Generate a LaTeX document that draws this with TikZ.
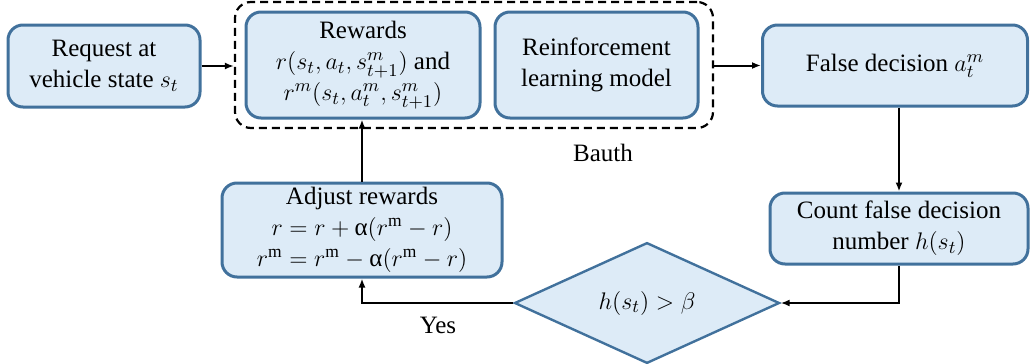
\documentclass[tikz,border=0pt]{standalone}
\usepackage{amsmath}
\usepackage{fontspec}
\setmainfont{Liberation Serif}
\newfontfamily\boxfont{Liberation Serif}
\usepackage{tikz}
\usetikzlibrary{arrows.meta,shapes.geometric}

\definecolor{boxfill}{HTML}{DDEBF7}
\definecolor{boxline}{HTML}{41719C}

\tikzset{
  stepbox/.style={draw=boxline, fill=boxfill, line width=1.5pt, rounded corners=7.5pt,
    align=center, inner sep=0pt, font=\boxfont\fontsize{12.5}{15.5}\selectfont},
  choice/.style={diamond, draw=boxline, fill=boxfill, line width=1.2pt,
    inner sep=0pt, font=\boxfont\fontsize{12.5}{15.5}\selectfont},
  arr/.style={-{Latex[length=4.5pt,width=3.5pt]}, line width=1pt},
  lbl/.style={font=\boxfont\fontsize{12.5}{15.5}\selectfont}
}

\begin{document}
\begin{tikzpicture}[x=0.5pt, y=-0.5pt]
    \useasboundingbox (0,0) rectangle (1030,364);
  % authentication block
  \node[draw, dashed, dash pattern=on 4pt off 2.5pt, line width=1.1pt, rounded corners=8pt,
        minimum width=239pt, minimum height=63pt, inner sep=0pt] (auth) at (474,65) {};
  \node[lbl] (authname) at (603,153) {Bauth};
  \node[stepbox, minimum width=96pt, minimum height=41pt] (req) at (104,66)
    {Request at\\vehicle state $s_t$};
  \node[stepbox, minimum width=117pt, minimum height=53pt] (rew) at (363,65)
    {Rewards\\$r(s_t,a_t,s_{t+1}^m)$ and\\$r^m(s_t,a_t^m,s_{t+1}^m)$};
  \node[stepbox, minimum width=101.5pt, minimum height=53pt] (rl) at (596.5,65)
    {Reinforcement\\learning model};
  \node[stepbox, minimum width=132.5pt, minimum height=40.5pt] (fd) at (895,65.5)
    {False decision $a_t^m$};
  \node[stepbox, minimum width=129pt, minimum height=35.5pt] (cnt) at (899,228.5)
    {Count false decision\\number $h(s_t)$};
  \node[stepbox, minimum width=140pt, minimum height=47pt] (adj) at (362,230)
    {Adjust rewards\\$r=r+\mbox{α}(r^{\mathrm{m}}-r)$\\$r^{\mathrm{m}}=r^{\mathrm{m}}-\mbox{α}(r^{\mathrm{m}}-r)$};
  \node[choice, minimum width=132.5pt, minimum height=54.5pt] (dec) at (647,303)
    {$h(s_t)>\beta$};
  \node[lbl] (yes) at (438,325) {Yes};

  \draw[arr] (req.east) -- (auth.west |- req.east);
  \draw[arr] (auth.east |- fd.west) -- (fd.west);
  \draw[arr] (fd.south -| cnt.north) -- (cnt.north);
  \draw[arr] (cnt.south) |- (dec.east);
  \draw[arr] (dec.west) -| (adj.south);
  \draw[arr] (adj.north) -- (adj.north |- rew.south);
\end{tikzpicture}
\end{document}
